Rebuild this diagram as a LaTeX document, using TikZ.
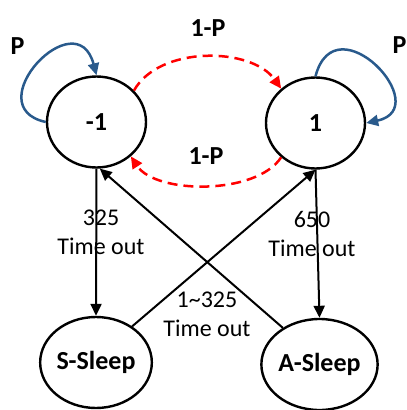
\documentclass[tikz,border=0pt]{standalone}
\usepackage{fontspec}
\setmainfont{Carlito}
\usetikzlibrary{arrows.meta,shapes.geometric}
\definecolor{loopblue}{RGB}{41,90,140}
\tikzset{
  state/.style={ellipse, draw=black, line width=2.4pt, fill=white,
    minimum width=99pt, minimum height=91pt, inner sep=0pt,
    font=\fontsize{26}{30}\selectfont\bfseries},
  tip/.style={-{Triangle[length=12pt,width=11pt]}},
  trans/.style={tip, line width=2pt, draw=black},
  selfloop/.style={tip, line width=2.5pt, draw=loopblue},
  flip/.style={tip, line width=2.5pt, draw=red, dash pattern=on 10pt off 6pt},
  blabel/.style={font=\fontsize{26}{30}\selectfont\bfseries, inner sep=0pt},
  tlabel/.style={font=\fontsize{24}{29}\selectfont, align=center, inner sep=0pt}
}
\begin{document}
\begin{tikzpicture}[x=1pt,y=-1pt]
\useasboundingbox (0,0) rectangle (407,410);

% states
\node[state] (m1) at (96.5,122) {-1};
\node[state] (p1) at (315.5,123) {1};
\node[state] (ss) at (96,362.5) {S-Sleep};
\node[state] (as) at (319.5,364.5) {A-Sleep};

% self loops
\draw[selfloop] (m1.west) .. controls +(-70,-15) and +(-20,-76) .. (m1.north);
\draw[selfloop] (p1.north) .. controls +(20,-76) and +(70,-15) .. (p1.east);
\node[blabel] (lp) at (17.5,46) {P};
\node[blabel] (rp) at (399.5,45) {P};

% flips between -1 and 1
\draw[flip] (m1.40) .. controls +(25,-45) and +(-30,-42) .. (p1.135);
\draw[flip] (p1.-135) .. controls +(-25,38) and +(25,38) .. (m1.-45);
\node[blabel] (tp) at (208,28) {1-P};
\node[blabel] (bp) at (206,156) {1-P};

% time-outs
\draw[trans] (m1.south) -- (ss.north);
\draw[trans] (p1.south) -- (as.north);
\draw[trans] (ss.45) -- (p1.south);
\draw[trans] (as.135) -- (m1.-86);

\node[tlabel] (l1) at (101,232) {325\\Time out};
\node[tlabel] (l2) at (312,234) {650\\Time out};
\node[tlabel] (l3) at (207,314) {1\textasciitilde325\\Time out};
\end{tikzpicture}
\end{document}
